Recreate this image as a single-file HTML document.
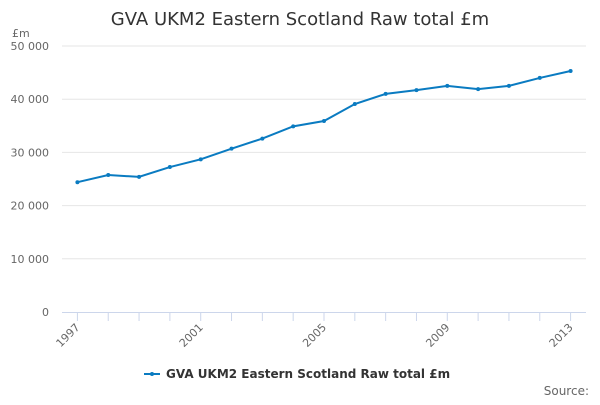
<!DOCTYPE html>
<html><head><meta charset="utf-8"><style>
body{margin:0;background:#fff;font-family:"Liberation Sans","DejaVu Sans",sans-serif}
</style></head><body>
<svg id="c" width="600" height="400" xmlns="http://www.w3.org/2000/svg">
<text x="300" y="25" text-anchor="middle" font-size="18" fill="#333" font-family="DejaVu Sans, sans-serif">GVA UKM2 Eastern Scotland Raw total £m</text>
<text x="12" y="37" font-size="11" fill="#666" font-family="DejaVu Sans, sans-serif">£m</text>
<g id="grid"></g><g id="xax"></g><g id="series"></g>
<g>
<line x1="144" y1="374" x2="160" y2="374" stroke="#0a7bc1" stroke-width="2"/>
<circle cx="152" cy="374" r="2" fill="#0a7bc1"/>
<text x="166" y="378" font-size="12" font-weight="bold" fill="#333" font-family="DejaVu Sans, sans-serif">GVA UKM2 Eastern Scotland Raw total £m</text>
</g>
<text x="589" y="395" text-anchor="end" font-size="12" fill="#666" font-family="DejaVu Sans, sans-serif">Source:</text>
</svg>
<script>
const years=[1997,1998,1999,2000,2001,2002,2003,2004,2005,2006,2007,2008,2009,2010,2011,2012,2013];
const values=[24400,25750,25400,27250,28700,30700,32600,34900,35900,39100,41000,41700,42500,41900,42500,44000,45300];
const yTicks=[0,10000,20000,30000,40000,50000];
const yLabels=["0","10 000","20 000","30 000","40 000","50 000"];
const xLabelYears=[1997,2001,2005,2009,2013];
const NS="http://www.w3.org/2000/svg";
const L=62,R=586,T=46,B=312;
const step=(R-L)/years.length;
const xs=i=>L+step*(i+0.5);
const ys=v=>B-(v/50000)*(B-T);
function mk(tag,attrs,parent){const e=document.createElementNS(NS,tag);for(const k in attrs)e.setAttribute(k,attrs[k]);parent.appendChild(e);return e;}
const g=document.getElementById('grid'),xa=document.getElementById('xax'),s=document.getElementById('series');
yTicks.forEach((t,i)=>{
 const y=ys(t);
 if(t>0){const l=mk('line',{x1:L,x2:R,y1:y,y2:y,stroke:'#e6e6e6'},g);
 
 }
 const tx=mk('text',{x:49,y:y+4,'text-anchor':'end','font-size':11,fill:'#666','font-family':'DejaVu Sans, sans-serif'},g);
 tx.textContent=yLabels[i];
 
 
});
const ax=mk('line',{x1:L,x2:R,y1:B+0.5,y2:B+0.5,stroke:'#ccd6eb'},xa);


years.forEach((yr,i)=>{
 const x=xs(i);
 const tk=mk('line',{x1:x,x2:x,y1:B,y2:B+9,stroke:'#ccd6eb'},xa);
 
 
 if(xLabelYears.includes(yr)){
  const tx=mk('text',{x:x+3,y:B+16,'text-anchor':'end','font-size':11,fill:'#666','font-family':'DejaVu Sans, sans-serif',transform:`rotate(-45 ${x+3} ${B+16})`},xa);
  tx.textContent=yr;
  
  
 }
});
const p=mk('polyline',{points:values.map((v,i)=>xs(i)+','+ys(v)).join(' '),fill:'none',stroke:'#0a7bc1','stroke-width':2},s);


values.forEach((v,i)=>{
 const c=mk('circle',{cx:xs(i),cy:ys(v),r:2,fill:'#0a7bc1'},s);
 
 
});
</script>
</body></html>
